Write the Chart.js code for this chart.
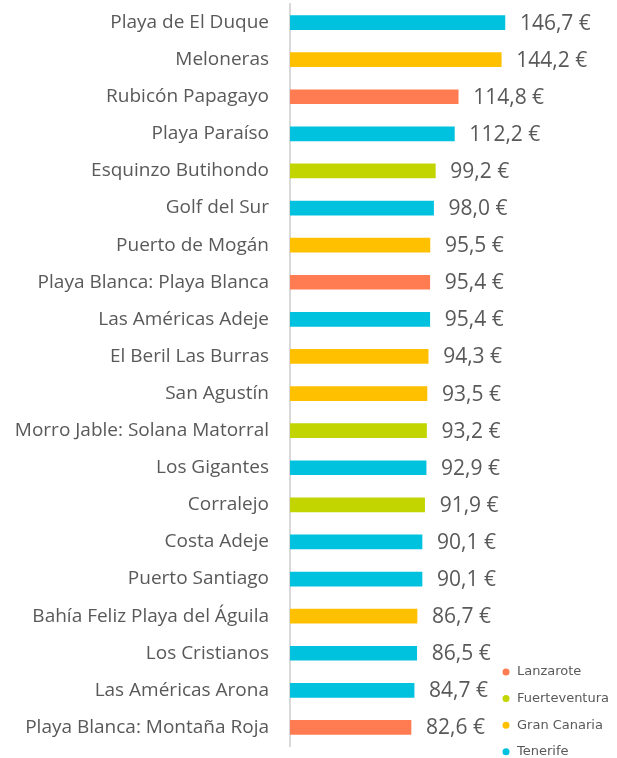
<!DOCTYPE html>
<html><head><meta charset="utf-8">
<script src="https://cdn.jsdelivr.net/npm/chart.js@4/dist/chart.umd.min.js"></script>
<style>html,body{margin:0;padding:0;background:#fff}#wrap{width:617px;height:758px;position:relative}</style>
</head><body><div id="wrap"><canvas id="c"></canvas></div>
<script>
const categories = ["Playa de El Duque","Meloneras","Rubicón Papagayo","Playa Paraíso","Esquinzo Butihondo","Golf del Sur","Puerto de Mogán","Playa Blanca: Playa Blanca","Las Américas Adeje","El Beril Las Burras","San Agustín","Morro Jable: Solana Matorral","Los Gigantes","Corralejo","Costa Adeje","Puerto Santiago","Bahía Feliz Playa del Águila","Los Cristianos","Las Américas Arona","Playa Blanca: Montaña Roja"];
const values = [146.7,144.2,114.8,112.2,99.2,98.0,95.5,95.4,95.4,94.3,93.5,93.2,92.9,91.9,90.1,90.1,86.7,86.5,84.7,82.6];
const islandOf = ["Tenerife","Gran Canaria","Lanzarote","Tenerife","Fuerteventura","Tenerife","Gran Canaria","Lanzarote","Tenerife","Gran Canaria","Gran Canaria","Fuerteventura","Tenerife","Fuerteventura","Tenerife","Tenerife","Gran Canaria","Tenerife","Tenerife","Lanzarote"];
const islands = ["Lanzarote","Fuerteventura","Gran Canaria","Tenerife"];
const islandColors = {"Lanzarote":"#FF7B52","Fuerteventura":"#C3D500","Gran Canaria":"#FFC000","Tenerife":"#00C1DE"};

const textColor = "#595959";

const valueLabels = {
  id:"valueLabels",
  afterDatasetsDraw(chart){
    const ctx = chart.ctx;
    const meta = chart.getDatasetMeta(0);
    ctx.save();
    ctx.font = "21px 'Open Sans'";
    ctx.fillStyle = textColor;
    ctx.textAlign = "left";
    ctx.textBaseline = "middle";
    meta.data.forEach((el,i)=>{
      const t = values[i].toFixed(1).replace(".", ",") + " €";
      ctx.fillText(t, el.x + 15, el.y + 1);
    });
    ctx.restore();
  }
};

const islandLegend = {
  id:"islandLegend",
  afterDraw(chart){
    const ctx = chart.ctx;
    ctx.save();
    ctx.font = "13px 'DejaVu Sans'";
    ctx.textAlign = "left";
    ctx.textBaseline = "middle";
    islands.forEach((name,i)=>{
      const y = 672 + i*26.6;
      ctx.fillStyle = islandColors[name];
      ctx.beginPath(); ctx.arc(506, y, 3.5, 0, Math.PI*2); ctx.fill();
      ctx.fillStyle = textColor;
      ctx.fillText(name, 517, y);
    });
    ctx.restore();
  }
};

new Chart(document.getElementById("c"), {
  type:"bar",
  data:{
    labels:categories,
    datasets:[{
      data:values,
      backgroundColor:islandOf.map(k=>islandColors[k]),
      barThickness:14,
      borderWidth:0
    }]
  },
  options:{
    indexAxis:"y",
    responsive:true,
    maintainAspectRatio:false,
    animation:false,
    layout:{padding:{left:0,right:34,top:4,bottom:12}},
    plugins:{legend:{display:false},tooltip:{enabled:false}},
    scales:{
      x:{display:false,min:0,max:200},
      y:{
        afterFit(s){ s.width = 290; s.paddingTop = 0; s.paddingBottom = 0; },
        grid:{display:false,drawTicks:false},
        border:{display:true,color:"#d9d9d9",width:2},
        ticks:{color:textColor,font:{family:"'Open Sans'",size:19},padding:21}
      }
    }
  },
  plugins:[valueLabels, islandLegend]
});
</script></body></html>
